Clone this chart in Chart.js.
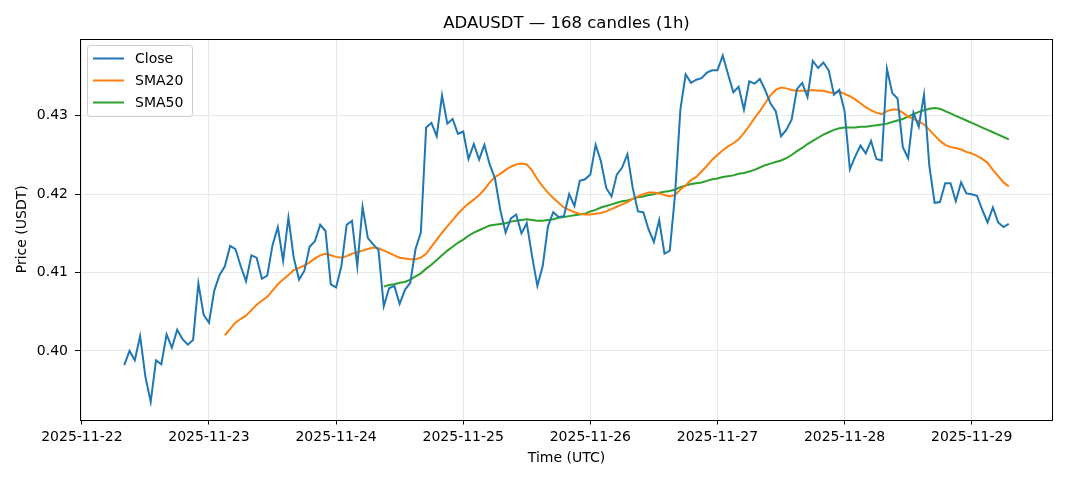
<!DOCTYPE html>
<html><head><meta charset="utf-8">
<script src="https://cdn.jsdelivr.net/npm/chart.js@4.4.1/dist/chart.umd.min.js"></script>
<style>html,body{margin:0;padding:0;background:#fff;overflow:hidden}canvas{display:block}</style>
</head><body>
<canvas id="c" width="1068" height="481"></canvas>
<script>
const chartTitle = 'ADAUSDT — 168 candles (1h)';
const xTitle = 'Time (UTC)';
const yTitle = 'Price (USDT)';
const xTickLabels = ['2025-11-22','2025-11-23','2025-11-24','2025-11-25','2025-11-26','2025-11-27','2025-11-28','2025-11-29'];
const yTicks = [0.40, 0.41, 0.42, 0.43];
const startHour = 8; // first candle: 2025-11-22 08:00 UTC, hourly
const seriesNames = ['Close', 'SMA20', 'SMA50'];
const seriesColors = ['#1f77b4', '#ff7f0e', '#2ca02c'];

const close = [
0.3982,0.4000,0.3988,0.4019,0.3967,0.3935,0.3988,0.3983,0.4021,0.4004,
0.4027,0.4015,0.4008,0.4014,0.4086,0.4046,0.4036,0.4077,0.4097,0.4108,
0.4134,0.4130,0.4108,0.4089,0.4122,0.4119,0.4092,0.4096,0.4135,0.4158,
0.4115,0.4170,0.4119,0.4091,0.4102,0.4133,0.4140,0.4161,0.4153,0.4085,
0.4081,0.4108,0.4161,0.4166,0.4108,0.4184,0.4144,0.4136,0.4129,0.4057,
0.4080,0.4083,0.4060,0.4078,0.4087,0.4130,0.4151,0.4285,0.4291,0.4274,
0.4326,0.4290,0.4296,0.4277,0.4280,0.4245,0.4264,0.4244,0.4263,0.4238,
0.4220,0.4180,0.4151,0.4169,0.4174,0.4150,0.4163,0.4121,0.4083,0.4108,
0.4159,0.4177,0.4171,0.4172,0.4200,0.4185,0.4217,0.4219,0.4225,0.4263,
0.4242,0.4208,0.4197,0.4225,0.4234,0.4251,0.4208,0.4178,0.4177,0.4155,
0.4139,0.4167,0.4124,0.4128,0.4200,0.4308,0.4353,0.4342,0.4346,0.4348,
0.4355,0.4358,0.4358,0.4377,0.4353,0.4330,0.4337,0.4308,0.4344,0.4341,
0.4347,0.4333,0.4316,0.4306,0.4274,0.4282,0.4295,0.4334,0.4342,0.4324,
0.4370,0.4361,0.4368,0.4358,0.4327,0.4333,0.4306,0.4232,0.4248,0.4262,
0.4252,0.4268,0.4245,0.4243,0.4360,0.4329,0.4322,0.4260,0.4246,0.4304,
0.4286,0.4327,0.4236,0.4189,0.4190,0.4214,0.4214,0.4191,0.4215,0.4201,
0.4200,0.4198,0.4180,0.4164,0.4183,0.4164,0.4158,0.4162
];

const sma20Start = 19;
const sma20 = [
0.4020,0.4028,0.4036,0.4041,0.4045,0.4052,0.4059,0.4064,0.4069,0.4077,
0.4085,0.4091,0.4097,0.4103,0.4106,0.4109,0.4113,0.4118,0.4122,0.4124,
0.4122,0.4120,0.4119,0.4121,0.4124,0.4126,0.4128,0.4130,0.4132,0.4131,
0.4128,0.4125,0.4122,0.4119,0.4118,0.4117,0.4117,0.4119,0.4124,0.4133,
0.4142,0.4151,0.4159,0.4167,0.4175,0.4182,0.4188,0.4193,0.4199,0.4206,
0.4215,0.4222,0.4226,0.4231,0.4235,0.4238,0.4239,0.4238,0.4230,0.4219,
0.4210,0.4202,0.4195,0.4189,0.4183,0.4180,0.4177,0.4175,0.4174,0.4174,
0.4175,0.4176,0.4178,0.4181,0.4184,0.4187,0.4190,0.4194,0.4197,0.4200,
0.4202,0.4202,0.4201,0.4199,0.4197,0.4199,0.4206,0.4211,0.4218,0.4222,
0.4229,0.4236,0.4244,0.4250,0.4256,0.4261,0.4265,0.4270,0.4278,0.4287,
0.4297,0.4306,0.4316,0.4326,0.4333,0.4336,0.4335,0.4333,0.4332,0.4332,
0.4332,0.4333,0.4332,0.4332,0.4330,0.4329,0.4331,0.4328,0.4325,0.4321,
0.4316,0.4311,0.4307,0.4304,0.4302,0.4306,0.4308,0.4308,0.4304,0.4299,
0.4296,0.4293,0.4289,0.4282,0.4275,0.4268,0.4263,0.4260,0.4259,0.4257,
0.4254,0.4252,0.4249,0.4245,0.4240,0.4231,0.4223,0.4215,0.4210
];

const sma50Start = 49;
const sma50 = [
0.4082,0.4084,0.4085,0.4087,0.4088,0.4091,0.4095,0.4099,0.4105,0.4110,
0.4116,0.4122,0.4128,0.4133,0.4138,0.4142,0.4147,0.4151,0.4154,0.4157,
0.4160,0.4161,0.4162,0.4163,0.4165,0.4166,0.4167,0.4168,0.4167,0.4166,
0.4166,0.4167,0.4168,0.4170,0.4171,0.4172,0.4173,0.4174,0.4175,0.4178,
0.4180,0.4183,0.4185,0.4187,0.4189,0.4191,0.4192,0.4194,0.4196,0.4197,
0.4199,0.4200,0.4202,0.4203,0.4204,0.4206,0.4209,0.4211,0.4213,0.4214,
0.4215,0.4217,0.4219,0.4220,0.4222,0.4223,0.4224,0.4226,0.4227,0.4229,
0.4231,0.4234,0.4237,0.4239,0.4241,0.4243,0.4246,0.4250,0.4255,0.4259,
0.4264,0.4268,0.4272,0.4276,0.4279,0.4282,0.4284,0.4285,0.4285,0.4285,
0.4286,0.4286,0.4287,0.4288,0.4289,0.4290,0.4292,0.4294,0.4296,0.4299,
0.4302,0.4305,0.4307,0.4309,0.4310,0.4309,0.4306,0.4303,0.4300,0.4297,
0.4294,0.4291,0.4288,0.4285,0.4282,0.4279,0.4276,0.4273,0.4270
];

const FONT = '"DejaVu Sans", "Liberation Sans", sans-serif';
const toPts = (arr, offset) => arr.map((v, k) => ({ x: startHour + offset + k, y: v }));

const decor = {
  id: 'decor',
  afterDraw(chart) {
    const { ctx, chartArea: a } = chart;
    ctx.save();
    // frame
    ctx.strokeStyle = '#000';
    ctx.lineWidth = 1;
    ctx.strokeRect(Math.round(a.left) + 0.5, Math.round(a.top) + 0.5, Math.round(a.right - a.left) - 1, Math.round(a.bottom - a.top));
    // title
    ctx.fillStyle = '#000';
    ctx.font = '16.5px ' + FONT;
    ctx.textAlign = 'center';
    ctx.textBaseline = 'middle';
    ctx.fillText(chartTitle, (a.left + a.right) / 2, 24);
    // legend
    const lx = a.left + 7.5, ly = a.top + 6.5, lw = 105, lh = 71;
    ctx.beginPath();
    ctx.roundRect(lx, ly, lw, lh, 3);
    ctx.fillStyle = 'rgba(255,255,255,0.8)';
    ctx.fill();
    ctx.strokeStyle = '#cccccc';
    ctx.stroke();
    ctx.font = '14px ' + FONT;
    ctx.textAlign = 'left';
    chart.data.datasets.forEach((ds, k) => {
      const y = ly + 13 + k * 22;
      ctx.strokeStyle = ds.borderColor;
      ctx.lineWidth = 2;
      ctx.beginPath();
      ctx.moveTo(lx + 5.5, y);
      ctx.lineTo(lx + 36.5, y);
      ctx.stroke();
      ctx.fillStyle = '#000';
      ctx.fillText(ds.label, lx + 47.5, y + 0.5);
    });
    ctx.restore();
  }
};

new Chart(document.getElementById('c'), {
  type: 'line',
  data: {
    datasets: [
      { label: seriesNames[0], data: toPts(close, 0), borderColor: seriesColors[0] },
      { label: seriesNames[1], data: toPts(sma20, sma20Start), borderColor: seriesColors[1] },
      { label: seriesNames[2], data: toPts(sma50, sma50Start), borderColor: seriesColors[2] }
    ]
  },
  options: {
    responsive: false,
    animation: false,
    devicePixelRatio: 1,
    layout: { padding: { left: 0, right: 15, top: 39, bottom: 0 } },
    plugins: { legend: { display: false }, title: { display: false }, tooltip: { enabled: false } },
    elements: { point: { radius: 0 }, line: { tension: 0, borderWidth: 2, fill: false } },
    scales: {
      x: {
        type: 'linear', min: -0.35, max: 183.35,
        afterBuildTicks(s) { s.ticks = xTickLabels.map((_, k) => ({ value: k * 24 })); },
        afterFit(s) { s.height = 61.5; },
        ticks: { callback: (v) => xTickLabels[Math.round(v / 24)], maxRotation: 0, autoSkip: false, font: { family: FONT, size: 14 }, color: '#000', padding: 4 },
        grid: { color: '#e8e8e8', tickColor: '#000', tickLength: 5, lineWidth: 1 },
        border: { display: false },
        title: { display: true, text: xTitle, font: { family: FONT, size: 14 }, color: '#000', padding: { top: 0, bottom: 14 } }
      },
      y: {
        min: 0.39125, max: 0.4398,
        afterBuildTicks(s) { s.ticks = yTicks.map(v => ({ value: v })); },
        afterFit(s) { s.width = 80; },
        ticks: { callback: (v) => Number(v).toFixed(2), font: { family: FONT, size: 14 }, color: '#000', padding: 7 },
        grid: { color: '#e8e8e8', tickColor: '#000', tickLength: 5, lineWidth: 1 },
        border: { display: false },
        title: { display: true, text: yTitle, font: { family: FONT, size: 14 }, color: '#000', padding: { top: 14, bottom: 0 } }
      }
    }
  },
  plugins: [decor]
});
</script>
</body></html>
